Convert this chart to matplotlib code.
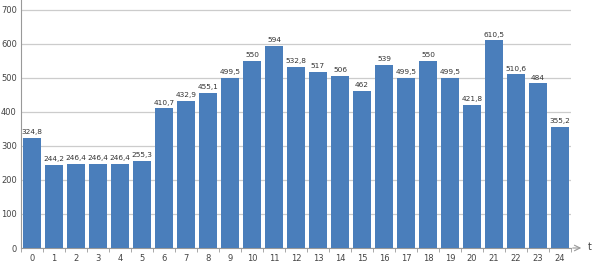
import numpy as np
import matplotlib.pyplot as plt

hours = list(range(25))
values = [324.8, 244.2, 246.4, 246.4, 246.4, 255.3, 410.7, 432.9, 455.1, 499.5,
          550, 594, 532.8, 517, 506, 462, 539, 499.5, 550, 499.5,
          421.8, 610.5, 510.6, 484, 355.2]
labels = ["324,8", "244,2", "246,4", "246,4", "246,4", "255,3", "410,7", "432,9", "455,1", "499,5",
          "550", "594", "532,8", "517", "506", "462", "539", "499,5", "550", "499,5",
          "421,8", "610,5", "510,6", "484", "355,2"]
yticks = [0, 100, 200, 300, 400, 500, 600, 700]

fig = plt.figure(figsize=(5.97, 2.65), dpi=100)
ax = fig.add_axes([21/597, 17/265, 550/597, 248/265])

bars = ax.bar(hours, values, width=0.86, color='#4a7ebb', zorder=3)
for x, v, s in zip(hours, values, labels):
    ax.text(x, v + 8, s, ha='center', va='bottom', fontsize=5.3, color='#333333')

ax.set_xlim(-0.5, 24.5)
ax.set_ylim(0, 729)
ax.set_yticks(yticks)
ax.set_xticks(hours)
ax.set_xticks(np.arange(-0.5, 25, 1), minor=True)
ax.tick_params(axis='x', which='major', length=0, labelsize=6, colors='#444444', pad=4)
ax.tick_params(axis='x', which='minor', length=3, color='#999999', direction='out')
ax.tick_params(axis='y', length=0, labelsize=6, colors='#444444', pad=3)
ax.yaxis.grid(True, color='#cccccc', lw=0.9, zorder=0)

for sp in ['top', 'right']:
    ax.spines[sp].set_visible(False)
ax.spines['left'].set_color('#999999')
ax.spines['bottom'].set_color('#999999')

# arrow at the end of the time axis
ax.annotate('', xy=(584/597, 17/265), xytext=(570/597, 17/265),
            xycoords='figure fraction',
            arrowprops=dict(arrowstyle='->', color='#999999', lw=0.8))
fig.text(588/597, 18/265, 't', fontsize=7, color='#444444', va='center')

fig.savefig('out.png', dpi=100)
